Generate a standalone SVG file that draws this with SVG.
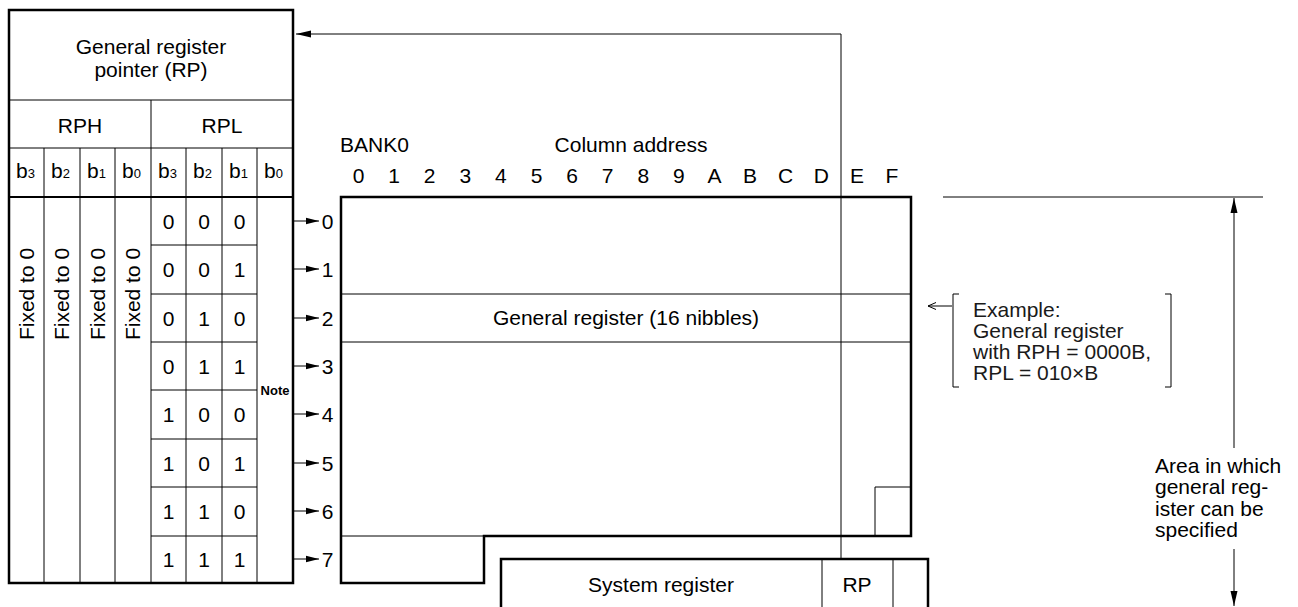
<svg xmlns="http://www.w3.org/2000/svg" width="1298" height="607" viewBox="0 0 1298 607">
<style>
text{font-family:"Liberation Sans",Arial,sans-serif;font-size:21px;fill:#000}
.m{text-anchor:middle}
.thick{fill:none;stroke:#000;stroke-width:2.5}
.thin{fill:none;stroke:#000;stroke-width:1}
.sub{font-size:13px}
.note{font-size:13px;font-weight:bold}
.ex{fill:#1a1a1a}
</style>
<defs>
<marker id="ah" markerUnits="userSpaceOnUse" markerWidth="14" markerHeight="8" refX="13" refY="4" orient="auto"><path d="M0,0.8 L13,4 L0,7.2 z" fill="#000"/></marker>
<marker id="av" markerUnits="userSpaceOnUse" markerWidth="16" markerHeight="8" refX="15" refY="4" orient="auto"><path d="M0,0.5 L15,4 L0,7.5 z" fill="#000"/></marker>
<marker id="ao" markerUnits="userSpaceOnUse" markerWidth="10" markerHeight="10" refX="8.5" refY="5" orient="auto"><path d="M0.5,1.5 L8.5,5 L0.5,8.5" fill="none" stroke="#000" stroke-width="1"/></marker>
</defs>

<g id="rp-table">
<rect class="thick" x="9" y="10" width="284" height="573"/>
<path class="thin" d="M9,100H293M9,148H293M151,100V583M44,148V583M80,148V583M115,148V583M186,148V583M222,148V583M257,148V583"/>
<path d="M9,197H293" stroke="#000" stroke-width="2"/>
<path class="thin" d="M151,245H257M151,294H257M151,342H257M151,390H257M151,439H257M151,487H257M151,536H257"/>
<text class="m" x="151" y="54">General register</text>
<text class="m" x="151" y="77">pointer (RP)</text>
<text class="m" x="80" y="133">RPH</text>
<text class="m" x="222" y="133">RPL</text>
<text x="16" y="178">b<tspan class="sub">3</tspan></text>
<text x="51" y="178">b<tspan class="sub">2</tspan></text>
<text x="87" y="178">b<tspan class="sub">1</tspan></text>
<text x="122" y="178">b<tspan class="sub">0</tspan></text>
<text x="158" y="178">b<tspan class="sub">3</tspan></text>
<text x="193" y="178">b<tspan class="sub">2</tspan></text>
<text x="229" y="178">b<tspan class="sub">1</tspan></text>
<text x="264" y="178">b<tspan class="sub">0</tspan></text>
<text class="m" transform="translate(33.5,294) rotate(-90)">Fixed to 0</text>
<text class="m" transform="translate(69,294) rotate(-90)">Fixed to 0</text>
<text class="m" transform="translate(104.5,294) rotate(-90)">Fixed to 0</text>
<text class="m" transform="translate(140,294) rotate(-90)">Fixed to 0</text>
<g>
<text class="m" x="168.5" y="229">0</text><text class="m" x="204" y="229">0</text><text class="m" x="239.5" y="229">0</text>
<text class="m" x="168.5" y="277">0</text><text class="m" x="204" y="277">0</text><text class="m" x="239.5" y="277">1</text>
<text class="m" x="168.5" y="326">0</text><text class="m" x="204" y="326">1</text><text class="m" x="239.5" y="326">0</text>
<text class="m" x="168.5" y="374">0</text><text class="m" x="204" y="374">1</text><text class="m" x="239.5" y="374">1</text>
<text class="m" x="168.5" y="422">1</text><text class="m" x="204" y="422">0</text><text class="m" x="239.5" y="422">0</text>
<text class="m" x="168.5" y="471">1</text><text class="m" x="204" y="471">0</text><text class="m" x="239.5" y="471">1</text>
<text class="m" x="168.5" y="519">1</text><text class="m" x="204" y="519">1</text><text class="m" x="239.5" y="519">0</text>
<text class="m" x="168.5" y="567">1</text><text class="m" x="204" y="567">1</text><text class="m" x="239.5" y="567">1</text>
</g>
<text class="note m" x="275" y="395">Note</text>
</g>

<g id="row-labels">
<text class="m" x="327.5" y="229">0</text>
<text class="m" x="327.5" y="277">1</text>
<text class="m" x="327.5" y="326">2</text>
<text class="m" x="327.5" y="374">3</text>
<text class="m" x="327.5" y="422">4</text>
<text class="m" x="327.5" y="471">5</text>
<text class="m" x="327.5" y="519">6</text>
<text class="m" x="327.5" y="567">7</text>
</g>

<g id="bank0-memory">
<text x="340" y="152">BANK0</text>
<text class="m" x="631" y="152">Column address</text>
<g>
<text class="m" x="358.5" y="183">0</text>
<text class="m" x="394.1" y="183">1</text>
<text class="m" x="429.7" y="183">2</text>
<text class="m" x="465.3" y="183">3</text>
<text class="m" x="500.9" y="183">4</text>
<text class="m" x="536.5" y="183">5</text>
<text class="m" x="572.1" y="183">6</text>
<text class="m" x="607.7" y="183">7</text>
<text class="m" x="643.3" y="183">8</text>
<text class="m" x="678.9" y="183">9</text>
<text class="m" x="714.5" y="183">A</text>
<text class="m" x="750.1" y="183">B</text>
<text class="m" x="785.7" y="183">C</text>
<text class="m" x="821.3" y="183">D</text>
<text class="m" x="857" y="183">E</text>
<text class="m" x="892" y="183">F</text>
</g>
<path class="thin" d="M341,294H911M341,342H911M341,536H484M875,536V487H911"/>
<polygon class="thick" points="341,197 911,197 911,536 484,536 484,583 341,583"/>
<text class="m" x="626" y="325">General register (16 nibbles)</text>
</g>

<g id="system-register">
<path class="thin" d="M822,559V607M893,559V607"/>
<path class="thick" d="M501,607V559H928V607"/>
<text class="m" x="661" y="592">System register</text>
<text class="m" x="857" y="592">RP</text>
</g>

<g id="example">
<path class="thin" d="M959,294H953V387H959M1165,294H1171V387H1165"/>
<line class="thin" x1="952" y1="306" x2="928" y2="306" marker-end="url(#ao)"/>
<text class="ex" x="973" y="317">Example:</text>
<text class="ex" x="973" y="338">General register</text>
<text class="ex" x="973" y="359">with RPH = 0000B,</text>
<text class="ex" x="973" y="380">RPL = 010×B</text>
</g>

<g id="area">
<line class="thin" x1="943" y1="197" x2="1263" y2="197"/>
<text x="1155" y="473">Area in which</text>
<text x="1155" y="494">general reg-</text>
<text x="1155" y="516">ister can be</text>
<text x="1155" y="537">specified</text>
</g>

<g id="connectors">
<line class="thin" x1="293" y1="221" x2="319" y2="221" marker-end="url(#ah)"/>
<line class="thin" x1="293" y1="269" x2="319" y2="269" marker-end="url(#ah)"/>
<line class="thin" x1="293" y1="318" x2="319" y2="318" marker-end="url(#ah)"/>
<line class="thin" x1="293" y1="366" x2="319" y2="366" marker-end="url(#ah)"/>
<line class="thin" x1="293" y1="414" x2="319" y2="414" marker-end="url(#ah)"/>
<line class="thin" x1="293" y1="463" x2="319" y2="463" marker-end="url(#ah)"/>
<line class="thin" x1="293" y1="511" x2="319" y2="511" marker-end="url(#ah)"/>
<line class="thin" x1="293" y1="559" x2="319" y2="559" marker-end="url(#ah)"/>
<polyline class="thin" points="841,559 841,34 296,34" marker-end="url(#av)"/>
<line class="thin" x1="1234" y1="448" x2="1234" y2="198" marker-end="url(#av)"/>
<line class="thin" x1="1234" y1="549" x2="1234" y2="606" marker-end="url(#av)"/>
</g>
</svg>
